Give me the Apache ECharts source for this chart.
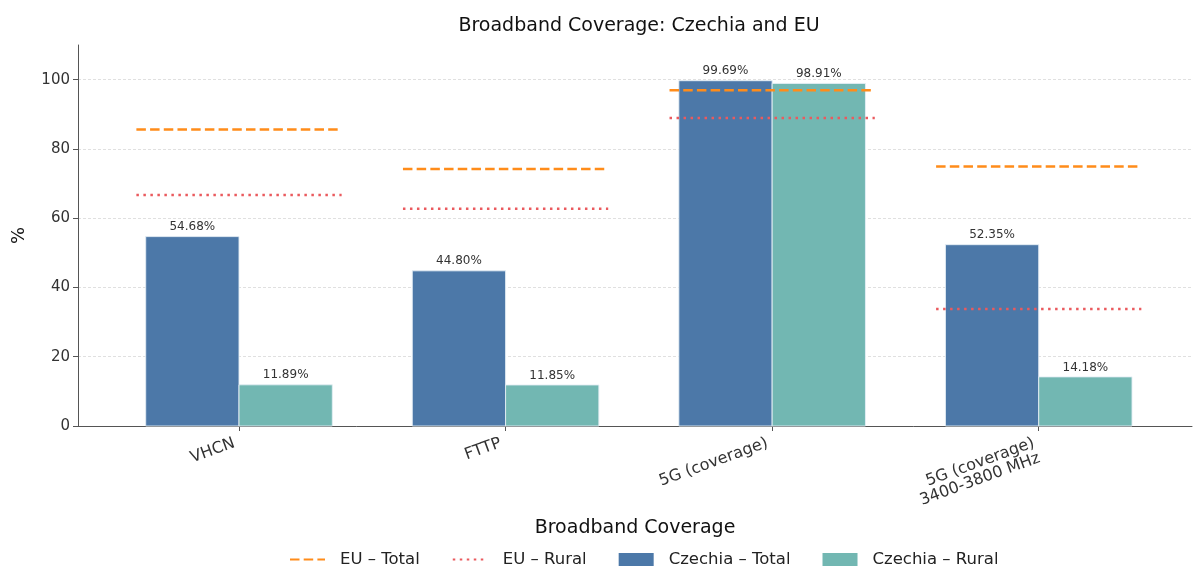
<!DOCTYPE html>
<html><head><meta charset="utf-8">
<script src="https://cdn.jsdelivr.net/npm/echarts@6/dist/echarts.min.js"></script>
<style>html,body{margin:0;padding:0;background:#fff}#c{width:1193px;height:568px}</style>
</head><body><div id="c"></div>
<script>
const CATEGORIES = ['VHCN', 'FTTP', '5G (coverage)', '5G (coverage)\n3400-3800 MHz'];
const CZ_TOTAL = [54.68, 44.80, 99.69, 52.35];
const CZ_RURAL = [11.89, 11.85, 98.91, 14.18];
const EU_TOTAL = [85.6, 74.2, 96.9, 74.9];
const EU_RURAL = [66.7, 62.7, 88.9, 33.8];
const Y_TICKS = [0, 20, 40, 60, 80, 100];

const FONT = 'DejaVu Sans';
const BAR_W = 0.35;
const LINE_HALF = 0.385;

function segData(vals) {
  const out = [];
  vals.forEach((v, i) => {
    out.push([i - LINE_HALF, v]);
    out.push([i + LINE_HALF, v]);
    out.push([i + 0.5, '-']);
  });
  return out;
}

function barSeries(name, vals, color, offset) {
  return {
    name, type: 'custom',
    itemStyle: { color },
    data: vals.map((v, i) => [i, v]),
    renderItem(params, api) {
      const i = api.value(0), v = api.value(1);
      const p0 = api.coord([i + offset, v]);
      const p1 = api.coord([i + offset + BAR_W, 0]);
      return {
        type: 'rect',
        shape: { x: p0[0], y: p0[1], width: p1[0] - p0[0], height: p1[1] - p0[1] },
        style: { fill: color, stroke: 'rgba(230,238,245,0.9)', lineWidth: 1 },
        textContent: { style: { text: v.toFixed(2) + '%', fontSize: 12, fill: '#333', fontFamily: FONT } },
        textConfig: { position: 'top', distance: 3 }
      };
    },
    z: 2
  };
}

const chart = echarts.init(document.getElementById('c'), null, { renderer: 'canvas' });
chart.setOption({
  animation: false,
  textStyle: { fontFamily: FONT },
  title: {
    text: 'Broadband Coverage: Czechia and EU',
    left: 634, top: 12, textAlign: 'center',
    textStyle: { fontFamily: FONT, fontSize: 19, fontWeight: 'normal', color: '#111' }
  },
  grid: { left: 78, right: 1, top: 45, bottom: 142, containLabel: false },
  legend: {
    top: 546, left: 284,
    itemWidth: 35, itemHeight: 13, itemGap: 32,
    textStyle: { fontFamily: FONT, fontSize: 16.5, color: '#222', padding: [0, 0, 0, 10] },
    data: [
      { name: 'EU – Total', itemStyle: { opacity: 0 } },
      { name: 'EU – Rural', itemStyle: { opacity: 0 } },
      { name: 'Czechia – Total', icon: 'rect' },
      { name: 'Czechia – Rural', icon: 'rect' }
    ]
  },
  xAxis: {
    type: 'value', min: -0.604, max: 3.575,
    name: 'Broadband Coverage', nameLocation: 'middle', nameGap: 93,
    nameTextStyle: { fontFamily: FONT, fontSize: 19, color: '#111' },
    axisLine: { show: true, onZero: false, lineStyle: { color: '#555', width: 1 } },
    axisTick: { show: true, customValues: [0, 1, 2, 3], length: 5, lineStyle: { color: '#555' } },
    axisLabel: {
      customValues: [0, 1, 2, 3], rotate: 20, margin: 15,
      padding: [0, 5, 0, 0],
      formatter: v => {
        const t = CATEGORIES[Math.round(v)] || '';
        return t.indexOf('\n') >= 0 ? '\n' + t : t;
      },
      fontFamily: FONT, fontSize: 16, color: '#333'
    },
    splitLine: { show: false }
  },
  yAxis: {
    type: 'value', min: 0, max: 110, interval: 20,
    name: '%', nameLocation: 'middle', nameGap: 50,
    nameTextStyle: { fontFamily: FONT, fontSize: 18, color: '#111' },
    axisLine: { show: true, onZero: false, lineStyle: { color: '#555', width: 1 } },
    axisTick: { show: true, length: 5, lineStyle: { color: '#555' }, customValues: Y_TICKS },
    axisLabel: { customValues: Y_TICKS, fontFamily: FONT, fontSize: 15, color: '#333', margin: 8 },
    splitLine: { show: true, lineStyle: { color: ['#d8d8d8','#d8d8d8','#d8d8d8','#d8d8d8','#d8d8d8','#d8d8d8','rgba(0,0,0,0)'], type: [3, 2], width: 0.8 } }
  },
  series: [
    {
      name: 'EU – Total', type: 'line', data: segData(EU_TOTAL),
      showSymbol: false, symbol: 'none', connectNulls: false,
      lineStyle: { color: '#ff8c1a', width: 2.5, type: [9.5, 4.2] },
      itemStyle: { color: '#ff8c1a' }, z: 3
    },
    {
      name: 'EU – Rural', type: 'line', data: segData(EU_RURAL),
      showSymbol: false, symbol: 'none', connectNulls: false,
      lineStyle: { color: '#ea5a5e', width: 2.5, type: [2.5, 4.5] },
      itemStyle: { color: '#ea5a5e' }, z: 3
    },
    barSeries('Czechia – Total', CZ_TOTAL, '#4c78a8', -BAR_W),
    barSeries('Czechia – Rural', CZ_RURAL, '#72b7b2', 0)
  ]
});
</script>
</body></html>
